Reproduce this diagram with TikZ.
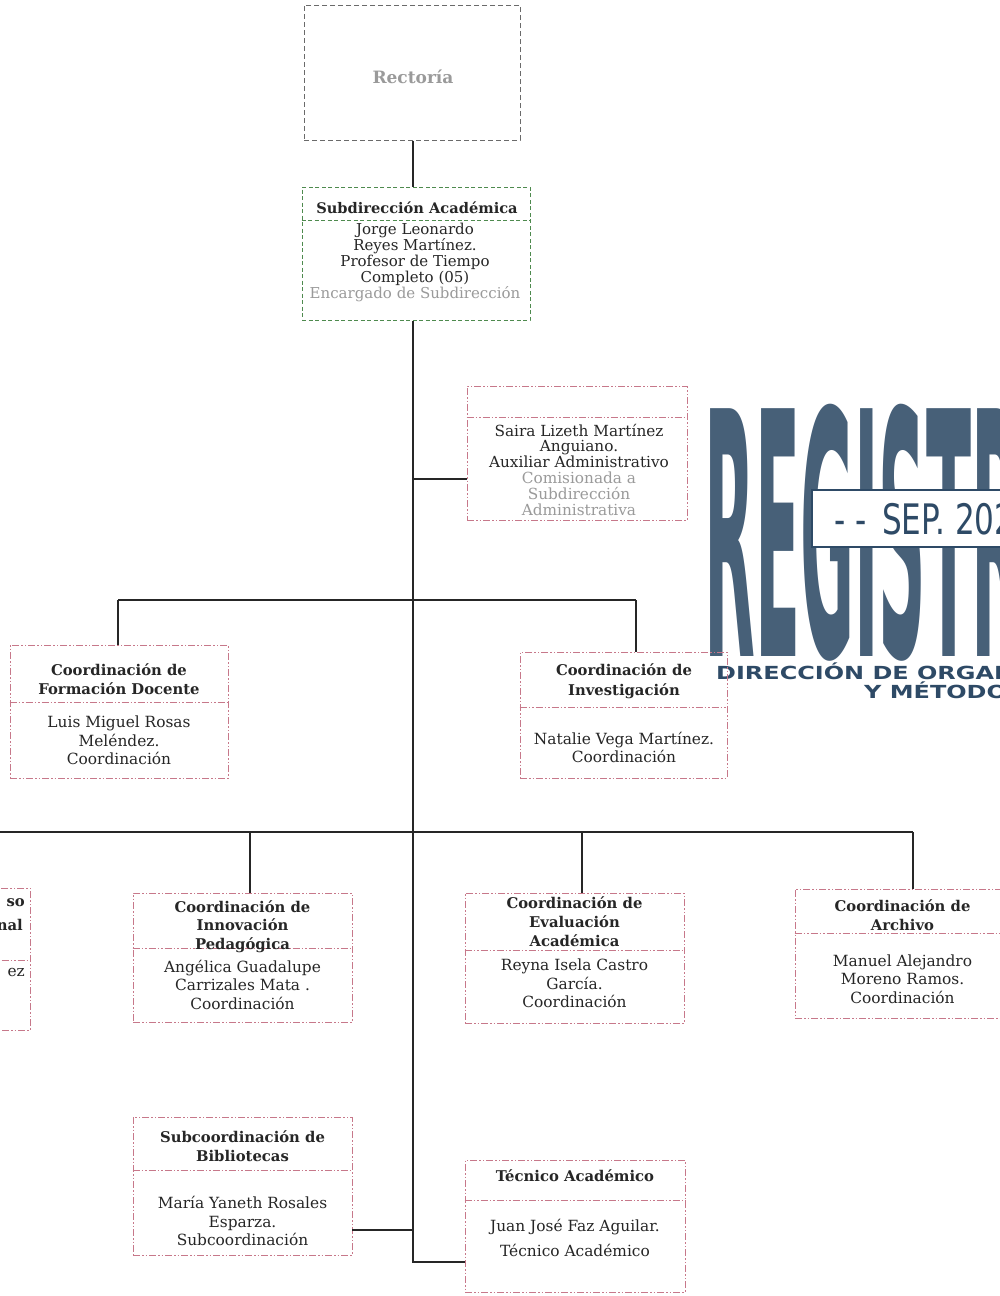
\documentclass[tikz,border=0pt]{standalone}
\usepackage{fontspec}
\setmainfont{DejaVu Serif}
\newfontfamily\stampfont{DejaVu Sans}
\usetikzlibrary{calc}
\definecolor{ink}{HTML}{262626}
\definecolor{faint}{HTML}{9A9A9A}
\definecolor{pinkd}{HTML}{C7788A}
\definecolor{greend}{HTML}{4E8A4E}
\definecolor{grayd}{HTML}{6A6A6A}
\definecolor{stampc}{HTML}{2E4A66}
\tikzset{
  orgbox/.style={draw=pinkd, line width=0.9pt, dash pattern=on 7pt off 2pt on 1.5pt off 2pt on 1.5pt off 2pt, inner sep=0pt},
  greenbox/.style={draw=greend, line width=1pt, dash pattern=on 4pt off 2.5pt, inner sep=0pt},
  graybox/.style={draw=grayd, line width=1pt, dash pattern=on 5pt off 3pt, inner sep=0pt},
  conn/.style={draw=ink, line width=1.4pt},
  hd/.style={font=\bfseries\fontsize{14.8}{19.5}\selectfont, text=ink, align=center, inner sep=0pt},
  bd/.style={font=\fontsize{15.4}{18.5}\selectfont, text=ink, align=center, inner sep=0pt},
  stamptxt/.style={anchor=west, inner sep=0pt, text=stampc},
}
\begin{document}
\begin{tikzpicture}[x=1pt,y=-1pt]
\useasboundingbox (0,0) rectangle (1000,1296);
\fill[white] (0,0) rectangle (1000,1296);
\clip (0,0) rectangle (1000,1296);

% ---------- stamp ----------
\node[stamptxt, anchor=base west, opacity=0.88, font=\stampfont\bfseries\fontsize{100}{100}\selectfont] (stamp) at (704,656) {\scalebox{0.66}[3.4]{REGISTRADO}};
\fill[white] (812,490) rectangle (1010,547);
\draw[stampc, line width=1.5pt] (1010,490) -- (812,490) -- (812,547) -- (1010,547);
\node[stamptxt, font=\stampfont\fontsize{42}{42}\selectfont] (date) at (834,519) {\scalebox{0.74}[1]{-\,\,-\, SEP. 2023}};
\node[stamptxt, font=\stampfont\bfseries\fontsize{18}{18}\selectfont] (dir1) at (716,671) {\scalebox{1.33}[1]{DIRECCIÓN DE ORGANIZACIÓN}};
\node[stamptxt, font=\stampfont\bfseries\fontsize{18}{18}\selectfont] (dir2) at (864,690) {\scalebox{1.33}[1]{Y MÉTODOS}};

% ---------- boxes ----------
\node[graybox, minimum width=216pt, minimum height=135pt] (rect) at (412,72.5) {};
\node[greenbox, minimum width=228pt, minimum height=133pt] (subd) at (416,253.5) {};
\node[orgbox, minimum width=220pt, minimum height=134pt] (saira) at (577,453) {};
\node[orgbox, minimum width=218pt, minimum height=133pt] (form) at (119,711.5) {};
\node[orgbox, minimum width=207pt, minimum height=126pt] (inv) at (623.5,715) {};
\node[orgbox, minimum width=220pt, minimum height=142pt] (left) at (-80,959) {};
\node[orgbox, minimum width=219pt, minimum height=129pt] (innov) at (242.5,957.5) {};
\node[orgbox, minimum width=219pt, minimum height=130pt] (eval) at (574.5,958) {};
\node[orgbox, minimum width=215pt, minimum height=129pt] (arch) at (902.5,953.5) {};
\node[orgbox, minimum width=219pt, minimum height=138pt] (bib) at (242.5,1186) {};
\node[orgbox, minimum width=220pt, minimum height=132pt] (tec) at (575,1226) {};

% dividers
\draw[greenbox] (subd.west |- 0,220) -- (subd.east |- 0,220);
\draw[orgbox] (saira.west |- 0,417) -- (saira.east |- 0,417);
\draw[orgbox] (form.west |- 0,702) -- (form.east |- 0,702);
\draw[orgbox] (inv.west |- 0,707) -- (inv.east |- 0,707);
\draw[orgbox] (left.west |- 0,960) -- (left.east |- 0,960);
\draw[orgbox] (innov.west |- 0,948) -- (innov.east |- 0,948);
\draw[orgbox] (eval.west |- 0,950) -- (eval.east |- 0,950);
\draw[orgbox] (arch.west |- 0,933) -- (arch.east |- 0,933);
\draw[orgbox] (bib.west |- 0,1170) -- (bib.east |- 0,1170);
\draw[orgbox] (tec.west |- 0,1200) -- (tec.east |- 0,1200);

% ---------- texts ----------
\node[font=\bfseries\fontsize{17}{19}\selectfont, text=faint] (trect) at (413,77) {Rectoría};

\node[hd, font=\bfseries\fontsize{14.6}{16}\selectfont] (hsubd) at (417,208) {Subdirección Académica};
\node[bd, font=\fontsize{15}{16}\selectfont] (bsubd) at (415,262) {Jorge Leonardo\\Reyes Martínez.\\Profesor de Tiempo\\Completo (05)\\{\color{faint}Encargado de Subdirección}};

\node[bd, font=\fontsize{15.3}{15.8}\selectfont] (bsaira) at (579,469.5) {Saira Lizeth Martínez\\Anguiano.\\Auxiliar Administrativo\\{\color{faint}Comisionada a}\\{\color{faint}Subdirección}\\{\color{faint}Administrativa}};

\node[hd] (hform) at (119,679) {Coordinación de\\Formación Docente};
\node[bd] (bform) at (119,740.5) {Luis Miguel Rosas\\Meléndez.\\Coordinación};

\node[hd] (hinv) at (624,681) {Coordinación de\\Investigación};
\node[bd] (binv) at (624,747.5) {Natalie Vega Martínez.\\Coordinación};

\node[hd, anchor=east] (hleft1) at (25,903) {so};
\node[hd, anchor=east] (hleft2) at (23,925) {nal};
\node[bd, anchor=east] (bleft) at (25,972) {ez};

\node[hd, font=\bfseries\fontsize{14.8}{18.5}\selectfont] (hinnov) at (242.5,926.5) {Coordinación de\\Innovación\\Pedagógica};
\node[bd] (binnov) at (242.5,984.5) {Angélica Guadalupe\\Carrizales Mata .\\Coordinación};

\node[hd, font=\bfseries\fontsize{14.8}{19}\selectfont] (heval) at (574.5,922) {Coordinación de\\Evaluación\\Académica};
\node[bd] (beval) at (574.5,983.5) {Reyna Isela Castro\\García.\\Coordinación};

\node[hd] (harch) at (902.5,915) {Coordinación de\\Archivo};
\node[bd] (barch) at (902.5,979) {Manuel Alejandro\\Moreno Ramos.\\Coordinación};

\node[hd] (hbib) at (242.5,1146) {Subcoordinación de\\Bibliotecas};
\node[bd] (bbib) at (242.5,1221) {María Yaneth Rosales\\Esparza.\\Subcoordinación};

\node[hd] (htec) at (575,1176) {Técnico Académico};
\node[bd, font=\fontsize{15.4}{25}\selectfont] (btec) at (575,1237.5) {Juan José Faz Aguilar.\\Técnico Académico};

% ---------- connectors ----------
\coordinate (tb) at (413,1262);
\coordinate (sj) at (413,479);
\coordinate (j1l) at (118,600);
\coordinate (j1r) at (636,600);
\coordinate (j2a) at (250,832);
\coordinate (j2b) at (582,832);
\coordinate (j2c) at (913,832);
\coordinate (bj) at (413,1230);

\draw[conn] (rect.south -| tb) -- (subd.north -| tb);
\draw[conn] (subd.south -| tb) -- (tb) -- (tb -| tec.west);
\draw[conn] (sj) -- (sj -| saira.west);
\draw[conn] (j1l) -- (j1r);
\draw[conn] (j1l) -- (j1l |- form.north);
\draw[conn] (j1r) -- (j1r |- inv.north);
\draw[conn] (left.north |- j2a) -- (j2c);
\draw[conn] (left.north |- j2a) -- (left.north);
\draw[conn] (j2a) -- (j2a |- innov.north);
\draw[conn] (j2b) -- (j2b |- eval.north);
\draw[conn] (j2c) -- (j2c |- arch.north);
\draw[conn] (bib.east |- bj) -- (bj);
\end{tikzpicture}
\end{document}
